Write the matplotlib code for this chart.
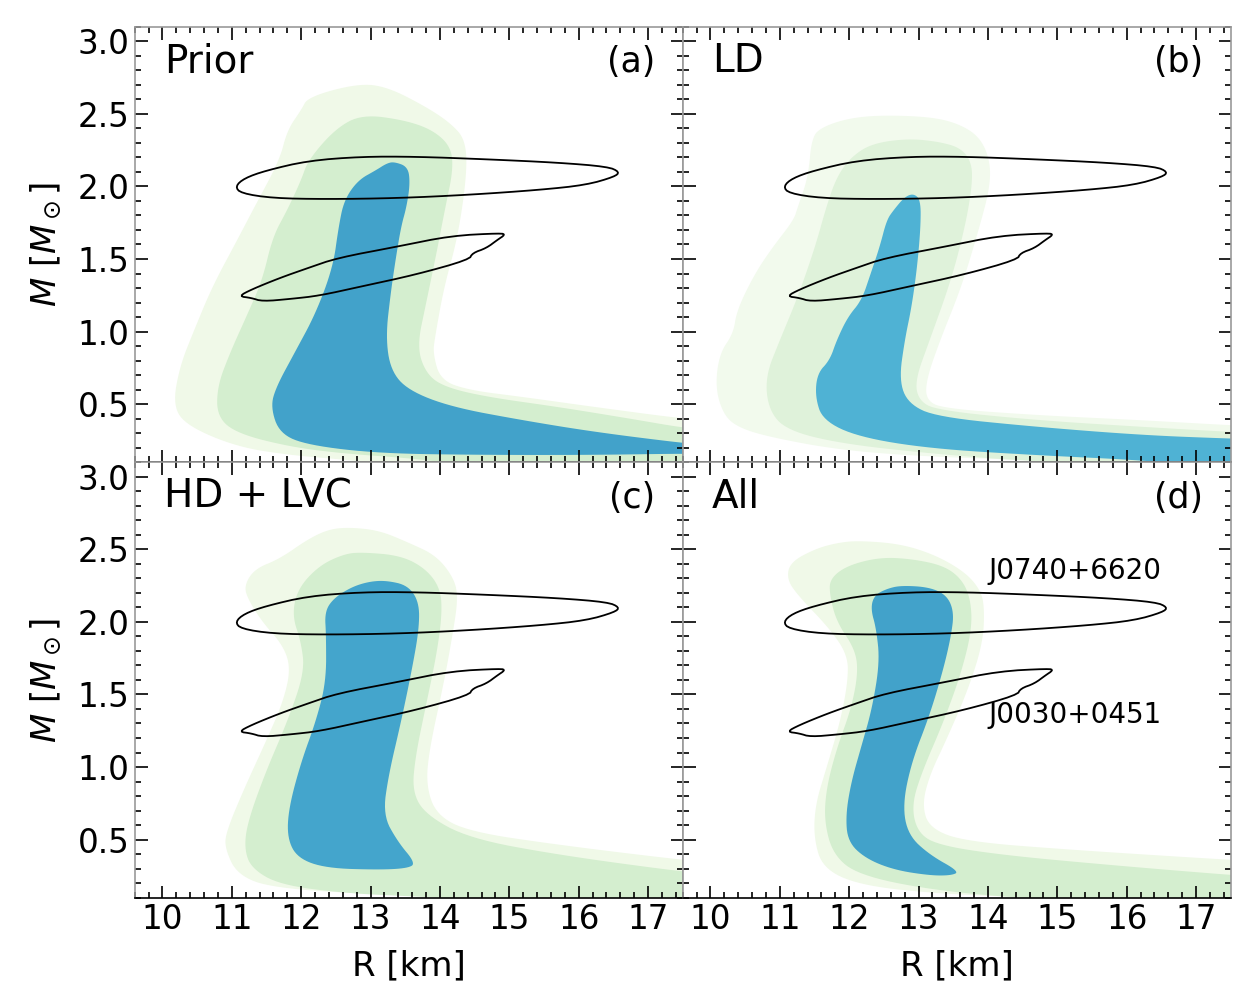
import numpy as np
import matplotlib
matplotlib.use("Agg")
import matplotlib.pyplot as plt
from matplotlib.ticker import MultipleLocator

# panel names / tags
panel_names = ["Prior", "LD", "HD + LVC", "All"]
panel_tags = ["(a)", "(b)", "(c)", "(d)"]

# NICER contours (R [km], M [Msun]), same in every panel
j0740_r = [11.05, 11.13, 11.59, 12.36, 13.39, 14.42, 15.44, 16.11, 16.52, 16.59,
           16.42, 15.70, 14.67, 13.65, 12.87, 12.10, 11.49, 11.18]
j0740_m = [2.00, 1.953, 1.919, 1.912, 1.919, 1.942, 1.976, 2.01, 2.067, 2.10,
           2.136, 2.164, 2.187, 2.205, 2.205, 2.177, 2.109, 2.056]
j0030_r = [11.10, 11.28, 11.44, 11.85, 12.26, 12.87, 13.65, 14.42, 14.47, 14.67,
           14.83, 14.94, 14.88, 14.16, 13.39, 12.52, 12.10, 11.69, 11.28]
j0030_m = [1.243, 1.232, 1.208, 1.225, 1.247, 1.311, 1.392, 1.495, 1.541, 1.575,
           1.632, 1.667, 1.678, 1.66, 1.586, 1.507, 1.438, 1.369, 1.289]

# (a) Prior
prior_outer_r = [12.82, 13.24, 13.80, 14.16, 14.37, 14.39, 14.26, 14.06, 13.93, 13.90,
                 14.01, 14.42, 15.19, 16.22, 17.48, 17.7, 17.7, 13.6, 13.13, 12.62,
                 11.85, 11.08, 10.36, 10.15, 10.25, 10.46, 10.72, 11.08, 11.33, 11.69,
                 11.80, 12.00, 12.10]
prior_outer_m = [2.709, 2.686, 2.549, 2.434, 2.319, 2.089, 1.653, 1.308, 0.964, 0.849,
                 0.665, 0.596, 0.550, 0.481, 0.401, 0.40, 0.05, 0.05, 0.09, 0.118,
                 0.148, 0.205, 0.349, 0.487, 0.761, 1.013, 1.311, 1.632, 1.861, 2.182,
                 2.388, 2.526, 2.617]
prior_mid_r = [12.88, 13.49, 13.90, 14.16, 14.19, 14.08, 13.95, 13.80, 13.67, 13.80,
               14.06, 14.67, 15.70, 16.73, 17.48, 17.7, 17.7, 14.5, 13.65, 12.62,
               11.85, 11.08, 10.79, 10.79, 10.97, 11.23, 11.44, 11.59, 11.80, 12.00,
               12.10, 12.50]
prior_mid_m = [2.496, 2.457, 2.388, 2.273, 2.112, 1.860, 1.538, 1.193, 0.895, 0.711,
               0.619, 0.550, 0.481, 0.401, 0.339, 0.335, 0.05, 0.07, 0.125, 0.159,
               0.205, 0.297, 0.412, 0.619, 0.849, 1.124, 1.354, 1.653, 1.837, 2.043,
               2.181, 2.40]
prior_in_r = [13.34, 13.54, 13.57, 13.52, 13.44, 13.36, 13.29, 13.22, 13.29, 13.54,
              14.16, 15.19, 16.22, 17.48, 17.7, 17.7, 17.48, 16.2, 14.67, 13.13,
              12.10, 11.69, 11.56, 11.64, 11.90, 12.21, 12.46, 12.54, 12.62, 12.82,
              13.08, 13.23]
prior_in_m = [2.170, 2.135, 2.020, 1.860, 1.722, 1.492, 1.262, 0.964, 0.734, 0.596,
              0.481, 0.389, 0.309, 0.233, 0.228, 0.155, 0.159, 0.150, 0.150, 0.160,
              0.217, 0.297, 0.481, 0.619, 0.849, 1.124, 1.446, 1.722, 1.906, 2.043,
              2.112, 2.158]

# (b) LD
ld_outer_r = [12.44, 13.16, 13.57, 13.88, 14.03, 14.03, 13.88, 13.62, 13.31, 13.11,
              13.11, 13.36, 14.70, 16.24, 17.47, 17.7, 17.7, 14.70, 13.16, 11.87,
              10.84, 10.38, 10.18, 10.07, 10.13, 10.33, 10.38, 10.64, 10.90, 11.20,
              11.26, 11.41, 11.46, 11.62, 11.98]
ld_outer_m = [2.491, 2.480, 2.434, 2.342, 2.181, 1.997, 1.722, 1.308, 0.941, 0.665,
              0.527, 0.470, 0.424, 0.389, 0.355, 0.353, 0.05, 0.114, 0.137, 0.183,
              0.274, 0.343, 0.435, 0.619, 0.849, 0.987, 1.147, 1.400, 1.584, 1.768,
              1.860, 2.066, 2.342, 2.411, 2.468]
ld_mid_r = [12.85, 13.31, 13.62, 13.77, 13.77, 13.67, 13.47, 13.16, 12.95, 13.00,
            13.26, 14.70, 16.24, 17.47, 17.7, 17.7, 14.70, 13.16, 11.87, 11.10,
            10.84, 10.79, 11.00, 11.26, 11.51, 11.67, 11.82, 12.03, 12.33]
ld_mid_m = [2.330, 2.307, 2.262, 2.158, 1.997, 1.722, 1.354, 0.941, 0.665, 0.527,
            0.458, 0.389, 0.343, 0.309, 0.307, 0.05, 0.102, 0.160, 0.229, 0.320,
            0.458, 0.688, 0.941, 1.239, 1.584, 1.860, 2.066, 2.204, 2.296]
ld_in_r = [12.93, 13.03, 13.03, 12.98, 12.90, 12.80, 12.72, 12.85, 13.26, 14.70,
           16.24, 17.47, 17.7, 17.7, 16.24, 14.70, 13.16, 12.13, 11.62, 11.51,
           11.54, 11.72, 11.82, 11.98, 12.18, 12.31, 12.44, 12.54, 12.64, 12.80]
ld_in_m = [1.951, 1.905, 1.722, 1.446, 1.170, 0.941, 0.665, 0.504, 0.412, 0.343,
           0.286, 0.263, 0.262, 0.05, 0.114, 0.148, 0.194, 0.274, 0.389, 0.550,
           0.711, 0.803, 0.941, 1.101, 1.216, 1.400, 1.584, 1.768, 1.837, 1.928]

# (c) HD + LVC
hd_outer_r = [12.72, 13.13, 13.54, 13.95, 14.21, 14.26, 14.19, 14.06, 13.85, 13.80,
              13.95, 14.42, 15.70, 17.47, 17.7, 17.7, 14.67, 13.13, 11.59, 11.08,
              10.90, 10.92, 11.18, 11.49, 11.74, 11.85, 11.74, 11.44, 11.23, 11.18,
              11.33, 11.69, 12.10, 12.41]
hd_outer_m = [2.651, 2.629, 2.548, 2.457, 2.296, 2.159, 1.930, 1.586, 1.128, 0.876,
              0.670, 0.555, 0.464, 0.361, 0.357, 0.05, 0.097, 0.120, 0.166, 0.257,
              0.441, 0.555, 0.853, 1.174, 1.449, 1.678, 1.838, 1.999, 2.159, 2.251,
              2.365, 2.434, 2.571, 2.640]
hd_mid_r = [12.88, 13.44, 13.80, 14.01, 14.03, 13.95, 13.80, 13.65, 13.60, 13.80,
            14.42, 15.70, 17.47, 17.7, 17.7, 14.6, 13.65, 12.62, 11.69, 11.28,
            11.18, 11.23, 11.49, 11.80, 12.05, 12.00, 11.87, 11.95, 12.26, 12.62]
hd_mid_m = [2.480, 2.457, 2.365, 2.228, 2.044, 1.769, 1.426, 1.082, 0.830, 0.670,
            0.509, 0.395, 0.280, 0.277, 0.05, 0.086, 0.108, 0.131, 0.189, 0.303,
            0.441, 0.624, 0.968, 1.311, 1.655, 1.861, 2.044, 2.228, 2.388, 2.468]
hd_in_r = [13.23, 13.54, 13.70, 13.70, 13.60, 13.44, 13.26, 13.18, 13.39, 13.65,
           13.54, 13.13, 12.36, 11.95, 11.80, 11.82, 12.00, 12.21, 12.36, 12.36,
           12.34, 12.46, 12.72, 12.98]
hd_in_m = [2.285, 2.251, 2.136, 1.953, 1.678, 1.311, 0.945, 0.670, 0.487, 0.338,
           0.303, 0.292, 0.303, 0.372, 0.509, 0.716, 1.036, 1.311, 1.586, 1.907,
           2.067, 2.159, 2.239, 2.278]

# (d) All
all_outer_r = [12.13, 12.75, 13.26, 13.67, 13.88, 13.95, 13.93, 13.72, 13.41, 13.16,
               13.05, 13.16, 13.67, 15.21, 17.47, 17.7, 17.7, 14.7, 13.16, 12.13,
               11.62, 11.49, 11.51, 11.67, 11.87, 11.98, 11.98, 11.72, 11.26, 11.10,
               11.15, 11.51, 11.82]
all_outer_m = [2.560, 2.537, 2.457, 2.342, 2.228, 2.113, 1.861, 1.540, 1.197, 0.945,
               0.738, 0.578, 0.487, 0.429, 0.361, 0.357, 0.05, 0.097, 0.131, 0.189,
               0.303, 0.509, 0.738, 0.991, 1.311, 1.586, 1.769, 1.953, 2.182, 2.296,
               2.411, 2.503, 2.544]
all_mid_r = [12.44, 12.90, 13.36, 13.62, 13.75, 13.77, 13.62, 13.36, 13.05, 12.90,
             12.98, 13.26, 14.18, 15.73, 17.47, 17.7, 17.7, 14.70, 13.16, 12.13,
             11.77, 11.64, 11.67, 11.82, 12.03, 12.13, 12.08, 11.82, 11.72, 11.72,
             11.97]
all_mid_m = [2.445, 2.434, 2.388, 2.296, 2.159, 1.953, 1.655, 1.311, 0.968, 0.738,
             0.555, 0.464, 0.395, 0.326, 0.257, 0.253, 0.05, 0.086, 0.154, 0.257,
             0.395, 0.624, 0.853, 1.128, 1.403, 1.655, 1.815, 1.999, 2.182, 2.296,
             2.388]
all_in_r = [12.75, 13.16, 13.41, 13.51, 13.47, 13.36, 13.16, 12.90, 12.77, 12.85,
            13.16, 13.59, 13.47, 13.16, 12.64, 12.23, 11.98, 11.95, 12.03, 12.18,
            12.33, 12.44, 12.39, 12.31, 12.36, 12.54]
all_in_m = [2.251, 2.239, 2.182, 2.067, 1.907, 1.678, 1.357, 1.036, 0.738, 0.532,
            0.395, 0.280, 0.253, 0.253, 0.292, 0.372, 0.487, 0.670, 0.899, 1.151,
            1.403, 1.724, 1.953, 2.090, 2.182, 2.228]

regions = [
    [(prior_outer_r, prior_outer_m), (prior_mid_r, prior_mid_m), (prior_in_r, prior_in_m)],
    [(ld_outer_r, ld_outer_m), (ld_mid_r, ld_mid_m), (ld_in_r, ld_in_m)],
    [(hd_outer_r, hd_outer_m), (hd_mid_r, hd_mid_m), (hd_in_r, hd_in_m)],
    [(all_outer_r, all_outer_m), (all_mid_r, all_mid_m), (all_in_r, all_in_m)],
]
panel_colors = [
    ["#f0f9e8", "#d4eecf", "#42a2ca"],
    ["#f2faed", "#dff2da", "#4fb2d4"],
    ["#f0f9e8", "#d4eecf", "#44a5cc"],
    ["#f0f9e8", "#d4eecf", "#42a2ca"],
]


def smooth_closed(r, m, n_iter=3):
    # chaikin corner cutting, just so the outlines don't look polygonal
    pts = np.column_stack([r, m]).astype(float)
    for _ in range(n_iter):
        nxt = np.roll(pts, -1, axis=0)
        q = 0.75 * pts + 0.25 * nxt
        s = 0.25 * pts + 0.75 * nxt
        pts = np.empty((2 * len(q), 2))
        pts[0::2] = q
        pts[1::2] = s
    return pts[:, 0], pts[:, 1]


fig, axes = plt.subplots(2, 2, figsize=(12.56, 9.94), dpi=100, sharex=True, sharey=True)
fig.subplots_adjust(left=0.1072, right=0.9799, top=0.9731, bottom=0.0969, wspace=0, hspace=0)

for i, ax in enumerate(axes.flat):
    for (r, m), col in zip(regions[i], panel_colors[i]):
        sr, sm = smooth_closed(r, m)
        ax.fill(sr, sm, color=col, lw=0, zorder=1)
    for r, m in [(j0740_r, j0740_m), (j0030_r, j0030_m)]:
        sr, sm = smooth_closed(r, m, n_iter=2)
        ax.fill(sr, sm, facecolor="none", edgecolor="k", lw=1.3, zorder=3)

    ax.text(0.053, 0.895, panel_names[i], transform=ax.transAxes, fontsize=28,
            ha="left", va="baseline")
    ax.text(0.95, 0.895, panel_tags[i], transform=ax.transAxes, fontsize=25,
            ha="right", va="baseline")

    ax.set_xlim(9.6, 17.5)
    ax.set_ylim(0.1, 3.1)
    ax.xaxis.set_major_locator(MultipleLocator(1))
    ax.xaxis.set_minor_locator(MultipleLocator(0.2))
    ax.yaxis.set_major_locator(MultipleLocator(0.5))
    ax.yaxis.set_minor_locator(MultipleLocator(0.1))
    ax.tick_params(which="both", direction="in", top=True, right=True,
                   labelsize=23.5, width=1.2, color="k")
    ax.tick_params(which="major", length=9)
    ax.tick_params(which="minor", length=4.5)
    for side in ["top", "left", "right"]:
        ax.spines[side].set_color("0.6")
    ax.spines["bottom"].set_color("k")
    for sp in ax.spines.values():
        sp.set_linewidth(1.2)
        sp.set_zorder(5)

axes[1, 1].text(14.0, 2.35, "J0740+6620", fontsize=20, ha="left", va="center")
axes[1, 1].text(14.0, 1.36, "J0030+0451", fontsize=20, ha="left", va="center")

for ax in axes[1]:
    ax.set_xlabel("R [km]", fontsize=24.5, labelpad=10)
for ax in axes[:, 0]:
    ax.set_ylabel(r"$M$ $[M_\odot]$", fontsize=24.5, labelpad=10)
    ax.set_yticks([0.5, 1.0, 1.5, 2.0, 2.5, 3.0])
    ax.set_yticklabels(["0.5", "1.0", "1.5", "2.0", "2.5", "3.0"])

fig.savefig("out.png", dpi=100)
